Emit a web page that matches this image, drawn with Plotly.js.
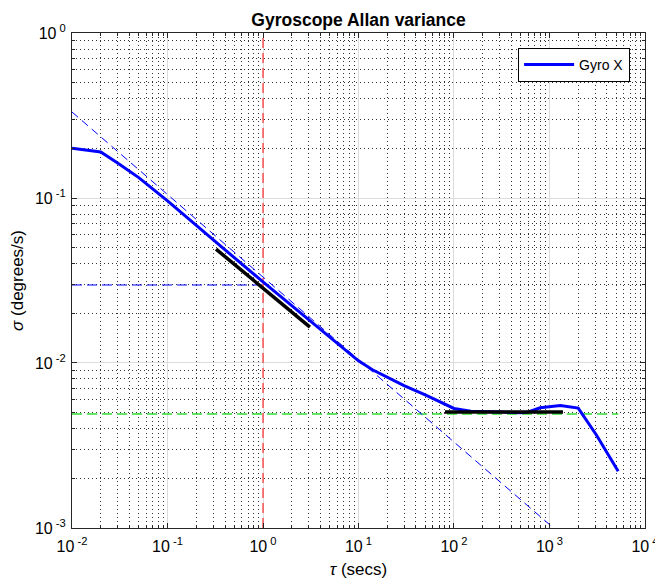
<!DOCTYPE html>
<html>
<head>
<meta charset="utf-8">
<script src="https://cdn.plot.ly/plotly-3.0.1.min.js"></script>
<style>
html,body{margin:0;padding:0;background:#fff;}
#chart{width:655px;height:579px;}
</style>
</head>
<body>
<div id="chart"></div>
<script>
// Gyro X Allan deviation
const tau   = [0.01, 0.02, 0.03, 0.05, 0.1, 0.2, 0.5, 1, 2, 3, 5, 7, 10, 14, 20, 30, 50, 80, 100, 150, 300, 500, 600, 800, 1300, 2000, 3100, 5243];
const sigma = [0.200, 0.190, 0.163, 0.133, 0.096, 0.068, 0.0435, 0.031, 0.0222, 0.0183, 0.0143, 0.0121, 0.0103, 0.0091, 0.0082, 0.0073, 0.0064, 0.0056, 0.0053, 0.0051, 0.00505, 0.0050, 0.00505, 0.00535, 0.00552, 0.00533, 0.00366, 0.00221];

// white-noise slope line (dashed blue)
const slopeTau   = [0.01, 1100];
const slopeSigma = [0.332, 0.001];

// horizontal N level (dashed blue)
const nTau   = [0.01, 1];
const nSigma = [0.0297, 0.0297];

// vertical tau = 1 (dashed red)
const vTau   = [1, 1];
const vSigma = [0.001, 1];

// bias instability level (dashed green)
const bTau   = [0.01, 5243];
const bSigma = [0.0049, 0.0049];

// black fit segments
const fit1Tau   = [0.322, 3.1];
const fit1Sigma = [0.049, 0.0165];
const fit2Tau   = [80.5, 1384];
const fit2Sigma = [0.00505, 0.00505];

// tick labels
const xTickVals = [0.01, 0.1, 1, 10, 100, 1000, 10000];
const xTickText = ['10<sup> -2</sup>', '10<sup> -1</sup>', '10<sup> 0</sup>', '10<sup> 1</sup>', '10<sup> 2</sup>', '10<sup> 3</sup>', '10<sup> 4</sup>'];
const yTickVals = [0.001, 0.01, 0.1, 1];
const yTickText = ['10<sup> -3</sup>', '10<sup> -2</sup>', '10<sup> -1</sup>', '10<sup> 0</sup>'];

const FONT = 'Liberation Sans, Arial, Helvetica, sans-serif';

const traces = [
  {x: vTau, y: vSigma, mode: 'lines', line: {color: '#ff0000', width: 1, dash: '10px,5px'}, showlegend: false, hoverinfo: 'skip'},
  {x: bTau, y: bSigma, mode: 'lines', line: {color: '#33dd33', width: 1.5, dash: '10px,5px'}, showlegend: false, hoverinfo: 'skip'},
  {x: slopeTau, y: slopeSigma, mode: 'lines', line: {color: '#0000ff', width: 1, dash: '8px,5px'}, showlegend: false, hoverinfo: 'skip'},
  {x: nTau, y: nSigma, mode: 'lines', line: {color: '#0000ff', width: 1, dash: '10px,5px'}, showlegend: false, hoverinfo: 'skip'},
  {x: tau, y: sigma, mode: 'lines', name: 'Gyro X', line: {color: '#0000ff', width: 3}},
  {x: fit1Tau, y: fit1Sigma, mode: 'lines', line: {color: '#000000', width: 3.5}, showlegend: false, hoverinfo: 'skip'},
  {x: fit2Tau, y: fit2Sigma, mode: 'lines', line: {color: '#000000', width: 3.5}, showlegend: false, hoverinfo: 'skip'}
];

const minorGrid = {
  dtick: 'D1',
  showgrid: true,
  gridcolor: 'rgba(0,0,0,0.8)',
  griddash: '1px,3px',
  gridwidth: 1,
  ticks: 'inside',
  ticklen: 3,
  tickcolor: '#262626'
};

const layout = {
  width: 655,
  height: 579,
  margin: {l: 72, r: 10, t: 33, b: 51, pad: 0},
  paper_bgcolor: '#ffffff',
  plot_bgcolor: '#ffffff',
  font: {family: FONT, size: 14, color: '#000000'},
  title: {
    text: '<b>Gyroscope Allan variance</b>',
    font: {family: FONT, size: 17.5, color: '#000000'},
    x: 0.5 * (72 + 645) / 655, xanchor: 'center',
    y: 1 - 20 / 579, yanchor: 'middle'
  },
  xaxis: {
    type: 'log',
    range: [-2.0003, 4.0003],
    tickvals: xTickVals,
    ticktext: xTickText,
    tickfont: {family: FONT, size: 16, color: '#000000'},
    ticklabelstandoff: 4,
    ticklabeloverflow: 'allow',
    ticks: 'inside',
    ticklen: 5,
    tickcolor: '#262626',
    showline: true,
    linecolor: '#262626',
    linewidth: 1,
    mirror: 'ticks',
    showgrid: true,
    gridcolor: '#dcdcdc',
    gridwidth: 1,
    zeroline: false,
    minor: minorGrid,
    title: {text: '<i>τ</i> (secs)', font: {family: FONT, size: 17, color: '#000000'}, standoff: 8}
  },
  yaxis: {
    type: 'log',
    range: [-3.0002, 0.0002],
    tickvals: yTickVals,
    ticktext: yTickText,
    tickfont: {family: FONT, size: 16, color: '#000000'},
    ticklabelstandoff: 2,
    ticklabeloverflow: 'allow',
    ticks: 'inside',
    ticklen: 5,
    tickcolor: '#262626',
    showline: true,
    linecolor: '#262626',
    linewidth: 1,
    mirror: 'ticks',
    showgrid: true,
    gridcolor: '#dcdcdc',
    gridwidth: 1,
    zeroline: false,
    minor: minorGrid,
    title: {text: '<i>σ</i> (degrees/s)', font: {family: FONT, size: 17, color: '#000000'}, standoff: 6}
  },
  legend: {
    x: 0.974, xanchor: 'right',
    y: 0.97, yanchor: 'top',
    bgcolor: '#ffffff',
    bordercolor: '#000000',
    borderwidth: 1,
    itemwidth: 50,
    font: {family: FONT, size: 14, color: '#000000'}
  },
  showlegend: true
};

Plotly.newPlot('chart', traces, layout, {staticPlot: true, displayModeBar: false});
</script>
</body>
</html>
